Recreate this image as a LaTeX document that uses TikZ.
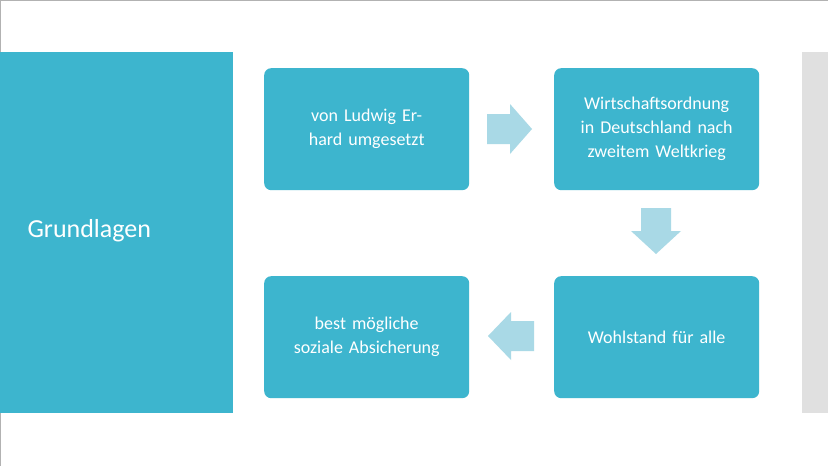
\documentclass[tikz,border=0pt]{standalone}
\usepackage{fontspec}
\setmainfont{Carlito}
\definecolor{teal1}{HTML}{3DB5CE}
\definecolor{arr}{HTML}{A9D9E6}
\definecolor{grayb}{HTML}{E0E0E0}
\begin{document}
\begin{tikzpicture}[x=1pt,y=-1pt,
  box/.style={fill=teal1,rounded corners=7pt,minimum width=205pt,minimum height=122pt,text width=180pt,align=center,text=white,font=\fontsize{18}{24}\selectfont,anchor=north west,inner sep=0pt},
  arrowfill/.style={fill=arr,draw=none}]
\useasboundingbox (0,0) rectangle (828,466);
\fill[white] (0,0) rectangle (828,466);
\draw[gray!60,line width=0.8pt] (0,0) rectangle (828,466);
\fill[teal1] (0,52) rectangle (233,413);
\node[text=white,font=\fontsize{26}{30}\selectfont,anchor=west] (g) at (24,231) {Grundlagen};
\fill[grayb] (802,52) rectangle (828,413);
\node[box] (b1) at (264,68) {von Ludwig Erhard umgesetzt};
\node[box] (b2) at (554,68) {Wirtschaftsordnung in Deutschland nach zweitem Weltkrieg};
\node[box] (b3) at (554,276) {Wohlstand für alle};
\node[box] (b4) at (264,276) {best mögliche soziale Absicherung};
\fill[arrowfill] (487,114) -- (510,114) -- (510,104) -- (532,129) -- (510,154) -- (510,144) -- (487,144) -- cycle;
\fill[arrowfill] (641,208) -- (671,208) -- (671,231) -- (681,231) -- (656,254) -- (631,231) -- (641,231) -- cycle;
\fill[arrowfill] (534,321) -- (511,321) -- (511,312) -- (488,336) -- (511,360) -- (511,351) -- (534,351) -- cycle;
\end{tikzpicture}
\end{document}
